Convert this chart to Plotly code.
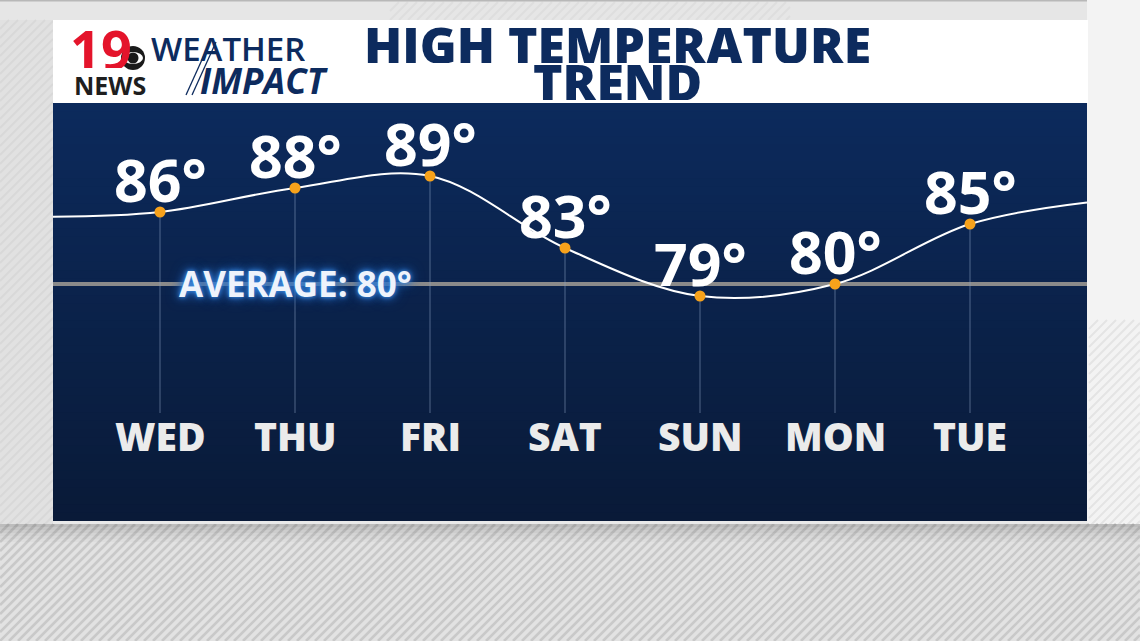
import plotly.graph_objects as go

# ---------------- data ----------------
days = ["WED", "THU", "FRI", "SAT", "SUN", "MON", "TUE"]
highs = [86, 88, 89, 83, 79, 80, 85]
average_high = 80
# where the trend curve meets the panel edges
edge_left_value = 85.6
edge_right_value = 86.8
title_lines = ["HIGH TEMPERATURE", "TREND"]

# ---------------- geometry helpers (pixel -> paper) ----------------
W, H = 1140, 641
def px(x):
    return x / W
def py(y):
    return 1 - y / H

PANEL_L, PANEL_R, PANEL_T, PANEL_B = 53, 1087, 103, 521
X_RANGE = [-0.7926, 6.8667]
Y_RANGE = [60.25, 95.0833]
STEM_BOTTOM = 69.25  # value where the thin drop lines stop

FONT = "Open Sans"
NAVY = "#0d2b5e"

shapes = []
annotations = []

def rect(x0, y0, x1, y1, color, layer="below"):
    shapes.append(dict(type="rect", xref="paper", yref="paper",
                       x0=px(x0), x1=px(x1), y0=py(y1), y1=py(y0),
                       fillcolor=color, layer=layer, line=dict(width=0)))

def stripes(x0, y0, x1, y1, color, step=9, width=2.5):
    c = x0 + y0
    while c < x1 + y1:
        xa = max(x0, c - y1)
        xb = min(x1, c - y0)
        if xb > xa:
            shapes.append(dict(type="line", xref="paper", yref="paper",
                               x0=px(xa), y0=py(c - xa), x1=px(xb), y1=py(c - xb),
                               line=dict(color=color, width=width), layer="below"))
        c += step

# ---------------- background ----------------
rect(0, 0, W, H, "#e3e3e3")
# top strip
rect(0, 0, W, 20, "#e6e6e6")
stripes(390, 2, 790, 20, "#dedede", step=9, width=2)
rect(0, 0, W, 1.5, "#b8b8b8")
# left strip
rect(0, 20, PANEL_L, 525, "#e1e1e1")
stripes(0, 20, PANEL_L, 525, "#d8d8d8", step=9, width=2)
# right strip
rect(PANEL_R, 0, W, 525, "#f3f3f3")
stripes(PANEL_R + 2, 320, W, 525, "#e4e4e4", step=9, width=2)
# bottom area
rect(0, 524, W, H, "#e2e2e2")
stripes(0, 524, W, H, "#c9c9c9", step=9, width=2.6)
for i, a in enumerate([0.16, 0.12, 0.09, 0.06, 0.04, 0.02]):
    rect(0, 524 + i * 3, W, 527 + i * 3, f"rgba(0,0,0,{a})")
rect(PANEL_L, PANEL_B, PANEL_R, 524, "#e9e9e9")

# header white box
rect(PANEL_L, 20, PANEL_R + 1, PANEL_T, "#ffffff")

# gradient panel (each band runs to the bottom so no seams appear)
top_c = (12, 42, 92)
bot_c = (9, 26, 56)
n = 50
for i in range(n):
    t = i / (n - 1)
    c = tuple(int(round(top_c[k] + (bot_c[k] - top_c[k]) * t)) for k in range(3))
    ya = PANEL_T + (PANEL_B - PANEL_T) * i / n
    rect(PANEL_L, ya, PANEL_R, PANEL_B, "rgb(%d,%d,%d)" % c)

# average line
shapes.append(dict(type="line", xref="paper", yref="y",
                   x0=px(PANEL_L), x1=px(PANEL_R), y0=average_high, y1=average_high,
                   line=dict(color="#8a8a8a", width=4), layer="below"))

# ---------------- logo ----------------
annotations.append(dict(xref="paper", yref="paper", x=px(101), y=py(49), text="<b>19</b>",
                        showarrow=False, xanchor="center", yanchor="middle", height=38,
                        font=dict(family=FONT, size=54, color="#e4142b", weight=800)))
# CBS eye
shapes.append(dict(type="circle", xref="paper", yref="paper",
                   x0=px(121), x1=px(145), y0=py(70), y1=py(46),
                   fillcolor="#1a1a1a", line=dict(width=0), layer="above"))
shapes.append(dict(type="circle", xref="paper", yref="paper",
                   x0=px(123), x1=px(143), y0=py(64), y1=py(52),
                   fillcolor="#ffffff", line=dict(width=0), layer="above"))
shapes.append(dict(type="circle", xref="paper", yref="paper",
                   x0=px(127.5), x1=px(138.5), y0=py(63.5), y1=py(52.5),
                   fillcolor="#1a1a1a", line=dict(width=0), layer="above"))
annotations.append(dict(xref="paper", yref="paper", x=px(110), y=py(85), text="<b>NEWS</b>",
                        showarrow=False, xanchor="center", yanchor="middle", height=20,
                        font=dict(family=FONT, size=25, color="#1e1e1e", weight=800)))
annotations.append(dict(xref="paper", yref="paper", x=px(228), y=py(48), text="WEATHER",
                        showarrow=False, xanchor="center", yanchor="middle", height=28,
                        font=dict(family=FONT, size=33, color=NAVY, weight=600)))
annotations.append(dict(xref="paper", yref="paper", x=px(264), y=py(80), text="<b><i>IMPACT</i></b>",
                        showarrow=False, xanchor="center", yanchor="middle", height=28,
                        font=dict(family=FONT, size=35, color=NAVY, weight=800)))
for (xa, ya, xb, yb) in [(186, 95, 210, 42), (192, 95, 216, 42)]:
    shapes.append(dict(type="line", xref="paper", yref="paper",
                       x0=px(xa), y0=py(ya), x1=px(xb), y1=py(yb),
                       line=dict(color=NAVY, width=1.3), layer="above"))

# ---------------- title ----------------
annotations.append(dict(xref="paper", yref="paper", x=px(617), y=py(45), text=title_lines[0],
                        showarrow=False, xanchor="center", yanchor="middle", height=36,
                        font=dict(family=FONT, size=50, color=NAVY, weight=800)))
annotations.append(dict(xref="paper", yref="paper", x=px(617), y=py(82), text=title_lines[1],
                        showarrow=False, xanchor="center", yanchor="middle", height=36,
                        font=dict(family=FONT, size=50, color=NAVY, weight=800)))

# ---------------- traces ----------------
xs = list(range(len(days)))
fig = go.Figure()

stem_x, stem_y = [], []
for i, v in zip(xs, highs):
    stem_x += [i, i, None]
    stem_y += [v, STEM_BOTTOM, None]
fig.add_trace(go.Scatter(x=stem_x, y=stem_y, mode="lines",
                         line=dict(color="rgba(140,160,195,0.55)", width=1),
                         hoverinfo="skip", showlegend=False))

fig.add_trace(go.Scatter(x=[X_RANGE[0]] + xs + [X_RANGE[1]],
                         y=[edge_left_value] + highs + [edge_right_value],
                         mode="lines", line=dict(color="#ffffff", width=2, shape="spline", smoothing=1.0),
                         hoverinfo="skip", showlegend=False))

fig.add_trace(go.Scatter(x=xs, y=highs, mode="markers",
                         marker=dict(color="#f7a21b", size=11, line=dict(width=0)),
                         showlegend=False))

for i, v in zip(xs, highs):
    annotations.append(dict(xref="x", yref="y", x=i, y=v, text=f"{v}°", showarrow=False,
                            xanchor="center", yanchor="middle", yshift=33,
                            font=dict(family=FONT, size=59, color="#ffffff", weight=700)))

for i, d in zip(xs, days):
    annotations.append(dict(xref="x", yref="paper", x=i, y=py(435), text=d, showarrow=False,
                            xanchor="center", yanchor="middle",
                            font=dict(family=FONT, size=39, color="#ebebeb", weight=800)))

annotations.append(dict(xref="x", yref="y", x=1, y=average_high, text=f"AVERAGE: {average_high}°",
                        showarrow=False, xanchor="center", yanchor="middle", yshift=1,
                        font=dict(family=FONT, size=35, color="#eef3fb", weight=700,
                                  shadow="0px 0px 4px #3b8ee6, 0px 0px 9px #2a72cc, 0px 0px 14px #1f5cb0")))

fig.update_layout(
    width=W, height=H,
    margin=dict(l=0, r=0, t=0, b=0),
    paper_bgcolor="#e3e3e3",
    plot_bgcolor="rgba(0,0,0,0)",
    xaxis=dict(domain=[px(PANEL_L), px(PANEL_R)], range=X_RANGE, visible=False, fixedrange=True),
    yaxis=dict(domain=[py(PANEL_B), py(PANEL_T)], range=Y_RANGE, visible=False, fixedrange=True),
    shapes=shapes,
    annotations=annotations,
    showlegend=False,
)

fig.write_html("out.html", config={"displayModeBar": False},
               post_script="document.body.style.margin='0px';document.body.style.overflow='hidden';")
